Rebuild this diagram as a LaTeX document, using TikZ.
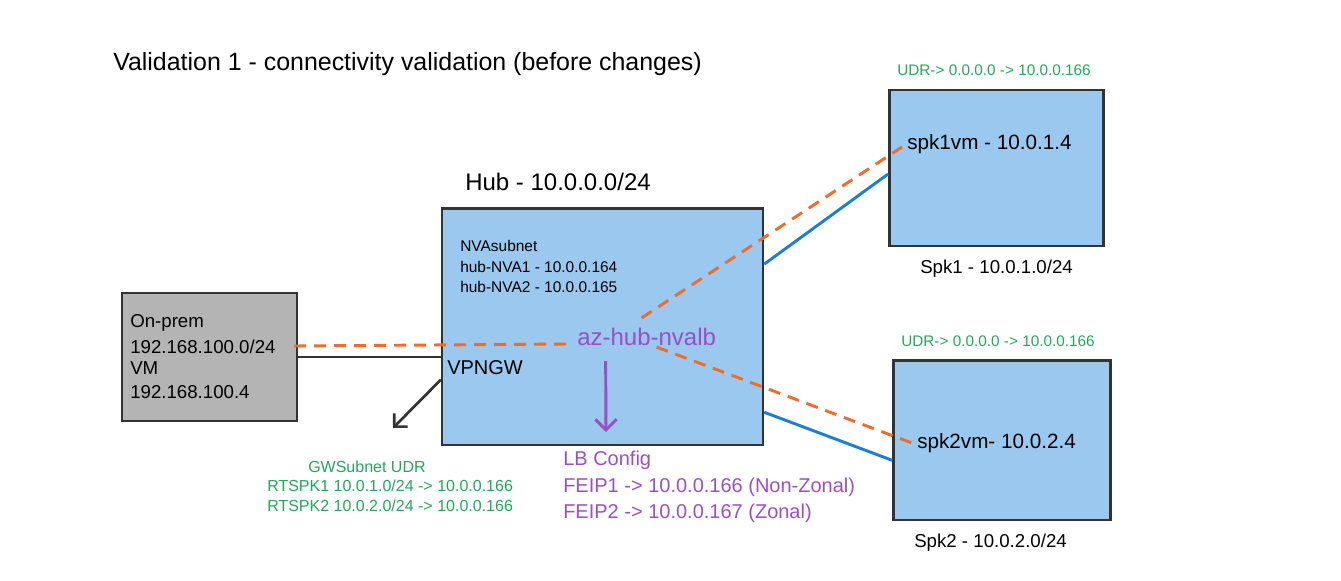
\documentclass[tikz,border=0pt]{standalone}
\usepackage{fontspec}
\setmainfont{Liberation Sans}
\usetikzlibrary{arrows.meta}
\definecolor{hubblue}{HTML}{9AC8EE}
\definecolor{grayfill}{HTML}{B4B4B4}
\definecolor{edge}{HTML}{333333}
\definecolor{orangeln}{HTML}{F26B2A}
\definecolor{blueln}{HTML}{1C7ED6}
\definecolor{greentx}{HTML}{22A85A}
\definecolor{purpletx}{HTML}{9B4FC4}
\tikzset{
  boxnode/.style={draw=edge, line width=1.8pt, inner sep=0pt},
  txt/.style={anchor=west, inner sep=0pt, text=black},
  fs/.style={font=\fontsize{#1}{#1}\selectfont},
  orangedash/.style={draw=orangeln, line width=2.2pt, dash pattern=on 9pt off 6pt},
  blueconn/.style={draw=blueln, line width=2.2pt},
  blackconn/.style={draw=edge, line width=2pt},
}
\begin{document}
\begin{tikzpicture}[x=0.75pt,y=-0.75pt]
\useasboundingbox (0,0) rectangle (1341,581);
% boxes
\node[boxnode, fill=grayfill, minimum width=131.25pt, minimum height=96pt] (onprem) at (209.5,357) {};
\node[boxnode, fill=hubblue, minimum width=240.75pt, minimum height=177.5pt] (hub) at (602.5,326.7) {};
\node[boxnode, fill=hubblue, minimum width=160.5pt, minimum height=117pt] (spk1) at (996.3,168) {};
\node[boxnode, fill=hubblue, minimum width=163pt, minimum height=119.5pt] (spk2) at (1002,440.3) {};
% texts
\node[txt, fs=18.7] (title) at (113,64) {Validation 1 - connectivity validation (before changes)};
\node[txt, fs=18] (hublbl) at (465,182) {Hub - 10.0.0.0/24};
\node[txt, fs=11.6] (nva0) at (460,246) {NVAsubnet};
\node[txt, fs=11.6] (nva1) at (460,267) {hub-NVA1 - 10.0.0.164};
\node[txt, fs=11.6] (nva2) at (460,287) {hub-NVA2 - 10.0.0.165};
\node[txt, fs=18, text=purpletx] (lbname) at (577,337) {az-hub-nvalb};
\node[txt, fs=15] (vpngw) at (447,368) {VPNGW};
\node[txt, fs=15, text=purpletx] (lbcfg) at (563,460) {LB Config};
\node[txt, fs=15, text=purpletx] (feip1) at (563,487) {FEIP1 -> 10.0.0.166 (Non-Zonal)};
\node[txt, fs=15, text=purpletx] (feip2) at (563,513) {FEIP2 -> 10.0.0.167 (Zonal)};
\node[txt, fs=12, text=greentx] (gw0) at (308,467) {GWSubnet UDR};
\node[txt, fs=12, text=greentx] (gw1) at (267,486) {RTSPK1 10.0.1.0/24 -> 10.0.0.166};
\node[txt, fs=12, text=greentx] (gw2) at (267,506) {RTSPK2 10.0.2.0/24 -> 10.0.0.166};
\node[txt, fs=14] (op0) at (130,323) {On-prem};
\node[txt, fs=14] (op1) at (130,347) {192.168.100.0/24};
\node[txt, fs=14] (op2) at (130,368) {VM};
\node[txt, fs=14] (op3) at (130,392) {192.168.100.4};
\node[txt, fs=11.5, text=greentx] (udr1) at (897,70) {UDR-> 0.0.0.0 -> 10.0.0.166};
\node[txt, fs=11.5, text=greentx] (udr2) at (901,341) {UDR-> 0.0.0.0 -> 10.0.0.166};
\node[txt, fs=15.5] (spk1vm) at (907,144) {spk1vm - 10.0.1.4};
\node[txt, fs=15.5] (spk2vm) at (917,443) {spk2vm- 10.0.2.4};
\node[txt, fs=14] (spk1lbl) at (920,269) {Spk1 - 10.0.1.0/24};
\node[txt, fs=14] (spk2lbl) at (914,543) {Spk2 - 10.0.2.0/24};
% free ends
\coordinate (gwtip) at (393,428);
\coordinate (lbtip) at (606,432);
% connectors
\draw[blackconn] (onprem.east) -- (hub.west |- onprem.east);
\draw[orangedash] ([shift={(-4,-11)}]onprem.east) -- ([shift={(-9,7)}]lbname.west);
\draw[orangedash] ([shift={(-5,-10)}]lbname.north) -- ([shift={(-5,3)}]spk1vm.west);
\draw[orangedash] ([shift={(10,1)}]lbname.south) -- ([shift={(-5,0)}]spk2vm.west);
\draw[blueconn] ([shift={(0,57)}]hub.north east) -- ([shift={(0,6)}]spk1.west);
\draw[blueconn] ([shift={(0,-34)}]hub.south east) -- ([shift={(0,20)}]spk2.west);
\draw[blackconn, -{Straight Barb[length=7pt,width=14pt]}] ([shift={(0,53)}]hub.west) -- (gwtip);
\draw[draw=purpletx, line width=2.2pt, -{Straight Barb[length=8pt,width=16pt]}] ([shift={(-41,15)}]lbname.south) -- (lbtip);
\end{tikzpicture}
\end{document}
